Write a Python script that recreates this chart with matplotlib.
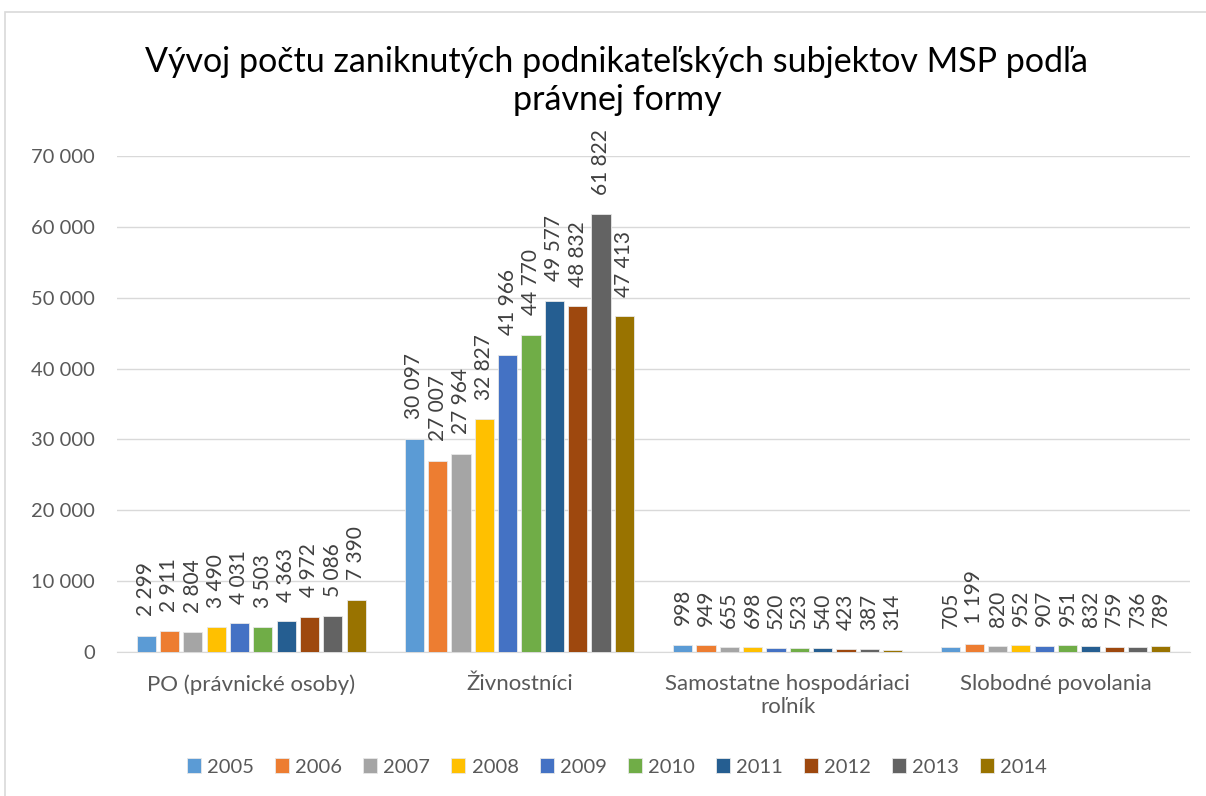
import numpy as np
import matplotlib.pyplot as plt
from matplotlib.patches import Rectangle

plt.rcParams['font.family'] = ['Lato', 'DejaVu Sans']

categories = ['PO (právnické osoby)', 'Živnostníci', 'Samostatne hospodáriaci\nroľník', 'Slobodné povolania']
years = ['2005', '2006', '2007', '2008', '2009', '2010', '2011', '2012', '2013', '2014']
po = [2299, 2911, 2804, 3490, 4031, 3503, 4363, 4972, 5086, 7390]
zivnostnici = [30097, 27007, 27964, 32827, 41966, 44770, 49577, 48832, 61822, 47413]
shr = [998, 949, 655, 698, 520, 523, 540, 423, 387, 314]
slobodne = [705, 1199, 820, 952, 907, 951, 832, 759, 736, 789]
colors = ['#5B9BD5', '#ED7D31', '#A5A5A5', '#FFC000', '#4472C4',
          '#70AD47', '#255E91', '#9E480E', '#636363', '#997300']

values = np.array([po, zivnostnici, shr, slobodne])  # riadky = kategorie

fig = plt.figure(figsize=(12.06, 7.96), dpi=100)
fig.patches.append(Rectangle((5 / 1206, -0.1), 1.2, 1 - 12 / 796 + 0.1,
                             transform=fig.transFigure, fill=False,
                             edgecolor='#D9D9D9', lw=1.2))
ax = fig.add_axes([117 / 1206, 1 - 652 / 796, (1190 - 117) / 1206, (652 - 156) / 796])

x = np.arange(len(categories))
n = len(years)
group = 0.87
w = group / n
for i in range(n):
    xs = x - group / 2 + w * (i + 0.5)
    ax.bar(xs, values[:, i], width=w * 0.82, color=colors[i], label=years[i],
           edgecolor='#E8E8E8', linewidth=0.6, zorder=3)
    for xi, v in zip(xs, values[:, i]):
        lab = f'{v:,}'.replace(',', ' ')
        ax.annotate(lab, (xi, v), xytext=(0, 14), textcoords='offset points',
                    rotation=90, ha='center', va='bottom', fontsize=15,
                    color='#404040', annotation_clip=False)

ax.set_xlim(-0.5, len(categories) - 0.5)
ax.set_ylim(0, 70000)
ax.set_yticks(np.arange(0, 70001, 10000))
ax.set_yticklabels([f'{t:,}'.replace(',', ' ') for t in range(0, 70001, 10000)])
ax.set_xticks(x)
ax.set_xticklabels(categories, fontsize=16, linespacing=1.15)
ax.tick_params(axis='both', length=0, colors='#595959')
ax.tick_params(axis='y', pad=16, labelsize=14.5)
ax.tick_params(axis='x', pad=16)
ax.grid(axis='y', color='#D9D9D9', lw=1, zorder=0)
for s in ['top', 'right', 'left']:
    ax.spines[s].set_visible(False)
ax.spines['bottom'].set_color('#D9D9D9')

fig.text(617 / 1206, 1 - 81 / 796,
         'Vývoj počtu zaniknutých podnikateľských subjektov MSP podľa\nprávnej formy',
         ha='center', va='center', fontsize=24.5, color='#000000', linespacing=1.2)

fig.legend(loc='center', bbox_to_anchor=(617 / 1206, 1 - 767 / 796), ncol=10,
           frameon=False, fontsize=14.5, handlelength=0.7, handleheight=0.7,
           columnspacing=1.05, handletextpad=0.3, labelcolor='#595959')

fig.savefig('out.png', dpi=100)
